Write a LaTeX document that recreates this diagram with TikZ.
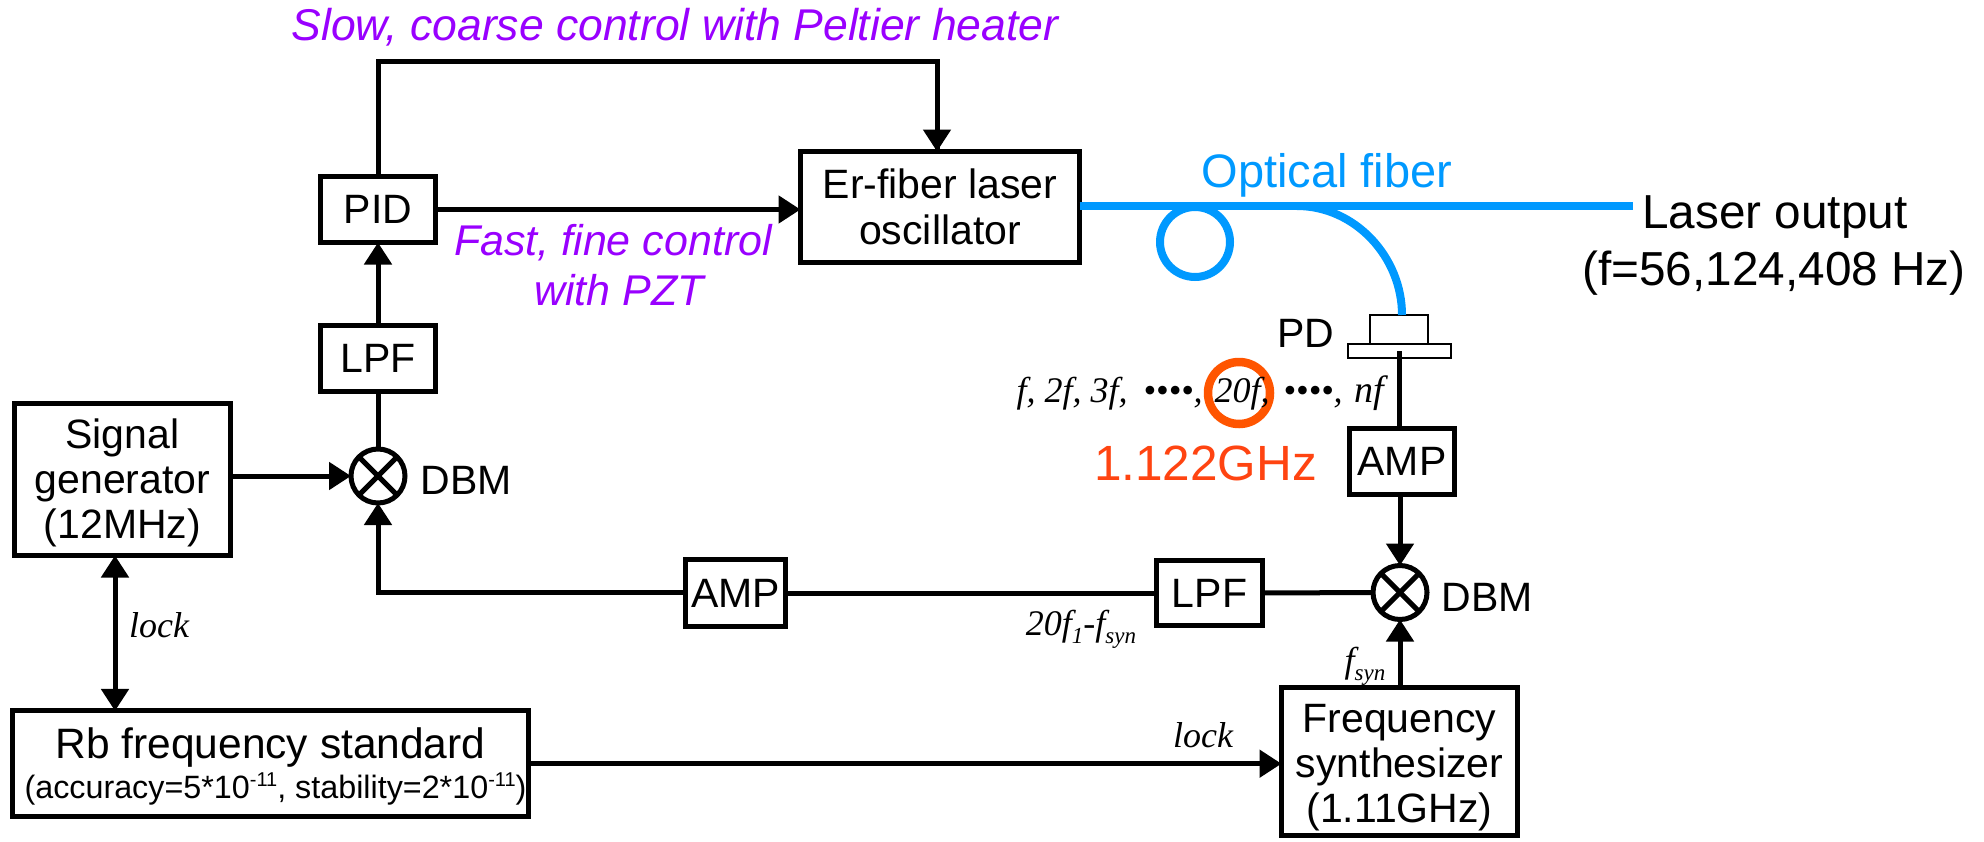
\documentclass[tikz,border=0pt]{standalone}
\usepackage{fontspec}
\setmainfont{Liberation Sans}
\newfontfamily\tms{Liberation Serif}
\usetikzlibrary{arrows.meta,calc}
\definecolor{fibc}{HTML}{0099FF}
\definecolor{purp}{HTML}{9900FF}
\definecolor{oran}{HTML}{FF5500}
\definecolor{ored}{HTML}{FF4411}
\newcommand{\upsc}[1]{\raisebox{12pt}{\fontsize{20}{20}\selectfont #1}}
\newcommand{\dnsc}[2][-8pt]{\raisebox{#1}{\fontsize{23}{23}\selectfont #2}}
\tikzset{
  x=1pt,y=-1pt,
  blk/.style={draw=black,line width=5pt,inner sep=0pt,outer sep=0pt,align=center,font=\fontsize{41}{45}\selectfont,text=black},
  thin box/.style={draw=black,line width=2pt,inner sep=0pt,outer sep=0pt,fill=white},
  mix/.style={circle,draw=black,line width=5pt,minimum size=54pt,inner sep=0pt,outer sep=0pt,
    path picture={\draw[line width=5pt] (path picture bounding box.south west)--(path picture bounding box.north east);
                  \draw[line width=5pt] (path picture bounding box.north west)--(path picture bounding box.south east);}},
  wire/.style={line width=5pt,draw=black},
  arr/.style={wire,-{Triangle[length=22pt,width=27pt]}},
  darr/.style={wire,{Triangle[length=22pt,width=27pt]}-{Triangle[length=22pt,width=27pt]}},
  fiber/.style={line width=8pt,draw=fibc},
  lab/.style={inner sep=0pt,outer sep=0pt,anchor=base,font=\fontsize{41}{45}\selectfont},
  ital/.style={lab,font=\fontsize{36}{36}\selectfont\tms\itshape},
  ptext/.style={lab,text=purp,font=\fontsize{43}{45}\selectfont\itshape},
}
\begin{document}
\begin{tikzpicture}
\useasboundingbox (0,0) rectangle (1984,841);
% boxes
\node[blk,minimum width=216pt,minimum height=152pt] (sig) at (122.5,479.5) {\rule{0pt}{36pt}Signal\\generator\\(12MHz)};
\node[blk,minimum width=516pt,minimum height=105.5pt] (rb) at (270.5,763.7) {};
\node[lab,font=\fontsize{42.5}{45}\selectfont] (rbt) at (270.5,758) {Rb frequency standard};
\node[lab,font=\fontsize{32.3}{34}\selectfont] (rbs) at (275.5,798) {(accuracy=5*10\upsc{-11}, stability=2*10\upsc{-11})};
\node[blk,minimum width=236pt,minimum height=148.5pt] (fs) at (1399.5,761.7) {\rule{0pt}{40pt}Frequency\\synthesizer\\(1.11GHz)};
\node[blk,minimum width=279pt,minimum height=111pt] (er) at (940,207) {Er-fiber laser\\[1pt]oscillator};
\node[blk,minimum width=115pt,minimum height=66pt] (pid) at (378,209.5) {PID};
\node[blk,minimum width=115pt,minimum height=66pt] (lpfa) at (378,358) {LPF};
\node[blk,minimum width=100pt,minimum height=67pt] (ampa) at (735.5,593) {AMP};
\node[blk,minimum width=106pt,minimum height=65pt] (lpfb) at (1209.5,593) {LPF};
\node[blk,minimum width=105pt,minimum height=66pt] (ampb) at (1402,461.5) {AMP};
\node[mix] (dbma) at (378,476) {};
\node[mix] (dbmb) at (1400,592.5) {};
% PD
\node[thin box,minimum width=58pt,minimum height=29pt] (pdt) at (1399,329.5) {};
\node[thin box,minimum width=103pt,minimum height=14pt] (pdb) at (1399.5,351) {};
% connectors
\coordinate (tl) at (377,61);
\coordinate (tr) at (937,61);
\coordinate (lk) at (115,630);
\coordinate (bl) at (378,592.5);
\draw[wire] (pid.north) -- (pid.north |- tl) -- (tr) -- (tr |- er.north);
\draw[arr] (tr) -- (tr |- er.north);
\draw[arr] (pid.east) -- (pid.east -| er.west);
\draw[arr] (lpfa.north) -- (pid.south);
\draw[wire] (dbma.north) -- (lpfa.south);
\draw[arr] (sig.east |- dbma.west) -- (dbma.west);
\draw[arr] (ampa.west |- bl) -- (bl) -- (dbma.south);
\draw[wire] (lpfb.west) -- (ampa.east);
\draw[wire] (dbmb.west) -- (lpfb.east);
\draw[arr] (ampb.south -| dbmb.north) -- (dbmb.north);
\draw[arr] (fs.north -| dbmb.south) -- (dbmb.south);
\draw[wire] (pdb.center) -- (pdb.center |- ampb.north);
\draw[darr] (lk |- sig.south) -- (lk |- rb.north);
\draw[arr] (rb.east) -- (rb.east -| fs.west);
% fiber
\coordinate (fibout) at (1633,206);
\coordinate (bend) at (1297,206);
\node[circle,draw=fibc,line width=8pt,minimum size=70pt,inner sep=0pt,outer sep=0pt] (loop) at (1195,242) {};
\draw[fiber] (er.east |- fibout) -- (fibout);
\draw[fiber] (bend) .. controls ($(bend)+(58,0)$) and ($(pdt.north)+(3,-58)$) .. ($(pdt.north)+(3,0)$);
% orange
\node[circle,draw=oran,line width=8.5pt,minimum size=62pt,inner sep=0pt,outer sep=0pt] (ring) at (1239,393) {};
% labels
\node[ptext,font=\fontsize{44.5}{45}\selectfont\itshape] (t1) at (675,40) {Slow, coarse control with Peltier heater};
\node[ptext] (t2) at (613,255) {Fast, fine control};
\node[ptext] (t3) at (619,305) {with PZT};
\node[lab,text=fibc,font=\fontsize{47}{47}\selectfont] (t4) at (1327,187) {Optical fiber};
\node[lab,font=\fontsize{47.7}{50}\selectfont] (t5) at (1775,228) {Laser output};
\node[lab,font=\fontsize{47.7}{50}\selectfont] (t6) at (1774,285) {(f=56,124,408 Hz)};
\node[lab] (t7) at (1305.5,347) {PD};
\node[lab,text=ored,font=\fontsize{49.5}{48}\selectfont] (t8) at (1205.5,480) {1.122GHz};
\node[lab] (t9) at (466,494) {DBM};
\node[lab] (t10) at (1487,611) {DBM};
\node[ital] (s1) at (1072,402) {f, 2f, 3f,};
\node[ital] (s2) at (1173,402) {••••,};
\node[ital] (s3) at (1242,402) {20f,};
\node[ital] (s4) at (1313,402) {••••,};
\node[ital,font=\fontsize{38}{38}\selectfont\tms\itshape] (s5) at (1369,402) {nf};
\node[ital] (l1) at (159,637) {lock};
\node[ital] (l2) at (1203,747) {lock};
\node[ital] (l3) at (1081,635) {20f\dnsc{1}-f\dnsc{syn}};
\node[ital] (l4) at (1365,672) {f\dnsc{syn}};
\end{tikzpicture}
\end{document}
